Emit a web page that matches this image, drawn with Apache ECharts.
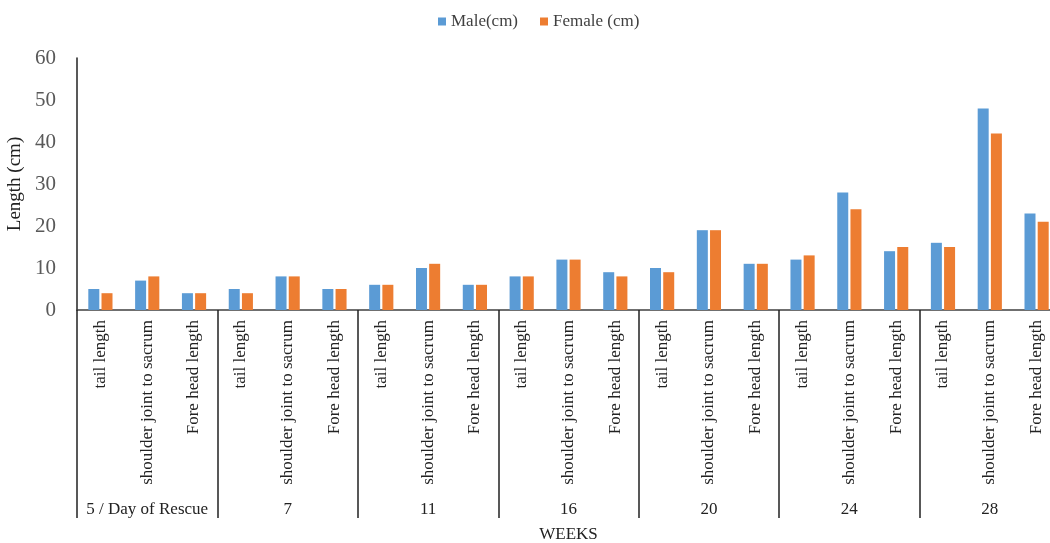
<!DOCTYPE html>
<html>
<head>
<meta charset="utf-8">
<script src="https://cdn.jsdelivr.net/npm/echarts@6/dist/echarts.min.js"></script>
<style>html,body{margin:0;padding:0;background:#fff;}#c{width:1050px;height:543px;}</style>
</head>
<body>
<div id="c"></div>
<script>
const measures = ["tail length", "shoulder joint to sacrum", "Fore head length"];
const groups = ["5 / Day of Rescue", "7", "11", "16", "20", "24", "28"];
const categories = [];
groups.forEach(() => measures.forEach(m => categories.push(m)));
const maleValues = [5, 7, 4, 5, 8, 5, 6, 10, 6, 8, 12, 9, 10, 19, 11, 12, 28, 14, 16, 48, 23];
const femaleValues = [4, 8, 4, 4, 8, 5, 6, 11, 6, 8, 12, 8, 9, 19, 11, 13, 24, 15, 15, 42, 21];
const yTicks = [0, 10, 20, 30, 40, 50, 60];

const font = "'Liberation Serif', 'Times New Roman', serif";
const chart = echarts.init(document.getElementById('c'));
chart.setOption({
  animation: false,
  textStyle: { fontFamily: font },
  legend: {
    top: 8, left: 433, itemWidth: 8, itemHeight: 8, itemGap: 22,
    icon: 'rect',
    textStyle: { fontFamily: font, fontSize: 17, color: '#404040' },
    data: ['Male(cm)', 'Female (cm)']
  },
  grid: { left: 77, right: -10, top: 58, bottom: 233, containLabel: false, outerBoundsMode: 'none' },
  xAxis: [
    {
      type: 'category', data: categories,
      axisLine: { lineStyle: { color: '#404040', width: 1.5 } },
      axisTick: { show: false },
      axisLabel: { rotate: 90, interval: 0, margin: 10, fontSize: 17, color: '#222', fontFamily: font }
    },
    {
      type: 'category', data: groups, position: 'bottom',
      axisLine: { show: false },
      axisTick: { show: true, length: 208, lineStyle: { color: '#222', width: 1.5 } },
      axisLabel: { interval: 0, margin: 191, fontSize: 17, color: '#222', fontFamily: font },
      name: 'WEEKS', nameLocation: 'middle', nameGap: 216,
      nameTextStyle: { fontSize: 17, color: '#222', fontFamily: font }
    }
  ],
  yAxis: {
    type: 'value', min: yTicks[0], max: yTicks[yTicks.length - 1], interval: 10,
    axisLine: { show: true, lineStyle: { color: '#222', width: 1.5 } },
    axisTick: { show: false },
    splitLine: { show: false },
    axisLabel: { margin: 21, fontSize: 21, color: '#595959', fontFamily: font },
    name: 'Length (cm)', nameLocation: 'middle', nameGap: 49,
    nameTextStyle: { fontSize: 19, color: '#222', fontFamily: font }
  },
  series: [
    { name: 'Male(cm)', type: 'bar', data: maleValues, barWidth: 11, barGap: '20%',
      itemStyle: { color: '#5B9BD5' } },
    { name: 'Female (cm)', type: 'bar', data: femaleValues, barWidth: 11, barGap: '20%',
      itemStyle: { color: '#ED7D31' } }
  ]
});
</script>
</body>
</html>
